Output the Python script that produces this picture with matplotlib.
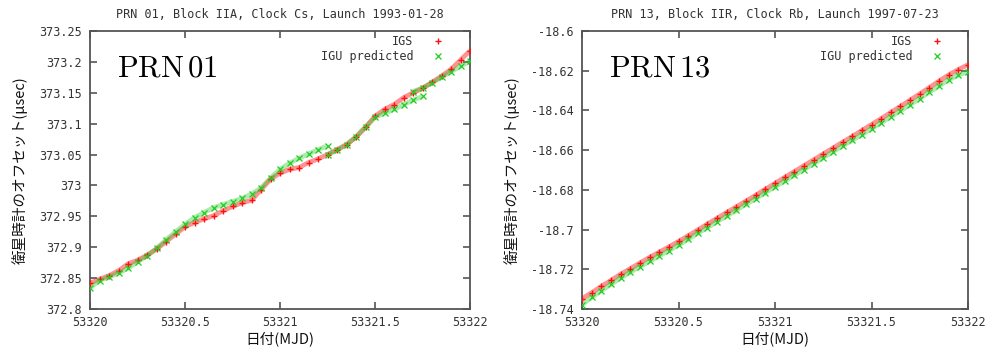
import numpy as np
import matplotlib
matplotlib.use("Agg")
import matplotlib.pyplot as plt
from matplotlib.ticker import FuncFormatter, MultipleLocator

plt.rcParams['mathtext.fontset'] = 'cm'

# ---------------- data ----------------
mjd = [53320.00, 53320.05, 53320.10, 53320.15, 53320.20, 53320.25, 53320.30, 53320.35,
       53320.40, 53320.45, 53320.50, 53320.55, 53320.60, 53320.65, 53320.70, 53320.75,
       53320.80, 53320.85, 53320.90, 53320.95, 53321.00, 53321.05, 53321.10, 53321.15,
       53321.20, 53321.25, 53321.30, 53321.35, 53321.40, 53321.45, 53321.50, 53321.55,
       53321.60, 53321.65, 53321.70, 53321.75, 53321.80, 53321.85, 53321.90, 53321.95,
       53322.00]

# PRN 01 - IGS (red)
prn01_igs = [372.842, 372.848, 372.854, 372.862, 372.873, 372.879, 372.887, 372.897,
             372.909, 372.921, 372.933, 372.940, 372.946, 372.951, 372.959, 372.966,
             372.972, 372.976, 372.993, 373.010, 373.020, 373.026, 373.029, 373.037,
             373.043, 373.050, 373.058, 373.066, 373.078, 373.094, 373.112, 373.123,
             373.131, 373.142, 373.150, 373.157, 373.167, 373.177, 373.188, 373.203,
             373.218]

# PRN 01 - IGU predicted (green), several prediction segments (NaN = break)
prn01_igu_mjd = [53320.00, 53320.05, 53320.10, 53320.15, 53320.20, 53320.25, 53320.30,
                 53320.35, 53320.40, 53320.45, 53320.50, 53320.55, 53320.60, 53320.65,
                 53320.70, 53320.75, 53320.80, 53320.85, 53320.90, 53320.95, 53321.00,
                 53321.05, 53321.10, 53321.15, 53321.20, 53321.25, 53321.25,
                 53321.25, 53321.30, 53321.35, 53321.40, 53321.45, 53321.50, 53321.55,
                 53321.60, 53321.65, 53321.70, 53321.75, 53321.75,
                 53321.70, 53321.75, 53321.80, 53321.85, 53321.90, 53321.95, 53322.00]
prn01_igu = [372.834, 372.846, 372.852, 372.858, 372.866, 372.876, 372.886,
             372.898, 372.912, 372.925, 372.937, 372.948, 372.956, 372.964,
             372.969, 372.974, 372.979, 372.986, 372.996, 373.012, 373.026,
             373.036, 373.044, 373.051, 373.058, 373.064, np.nan,
             373.050, 373.057, 373.066, 373.079, 373.095, 373.110, 373.117,
             373.123, 373.131, 373.138, 373.144, np.nan,
             373.152, 373.158, 373.166, 373.175, 373.184, 373.193, 373.201]

# PRN 13 - IGS (red)
prn13_igs = [-18.7348, -18.7318, -18.7286, -18.7256, -18.7225, -18.7197, -18.7168, -18.7140,
             -18.7114, -18.7087, -18.7060, -18.7031, -18.7002, -18.6972, -18.6943, -18.6914,
             -18.6885, -18.6856, -18.6827, -18.6797, -18.6767, -18.6737, -18.6708, -18.6678,
             -18.6649, -18.6619, -18.6590, -18.6560, -18.6531, -18.6501, -18.6471, -18.6441,
             -18.6410, -18.6380, -18.6348, -18.6317, -18.6285, -18.6252, -18.6221, -18.6194,
             -18.6170]

# PRN 13 - IGU predicted (green)
prn13_igu = [-18.7378, -18.7342, -18.7308, -18.7276, -18.7244, -18.7215, -18.7187, -18.7160,
             -18.7132, -18.7106, -18.7078, -18.7049, -18.7019, -18.6990, -18.6960, -18.6932,
             -18.6903, -18.6873, -18.6844, -18.6815, -18.6785, -18.6756, -18.6727, -18.6698,
             -18.6668, -18.6638, -18.6609, -18.6579, -18.6551, -18.6522, -18.6492, -18.6462,
             -18.6432, -18.6402, -18.6371, -18.6340, -18.6308, -18.6277, -18.6246, -18.6222,
             -18.6205]

titles = ["PRN 01, Block IIA, Clock Cs, Launch 1993-01-28",
          "PRN 13, Block IIR, Clock Rb, Launch 1997-07-23"]
labels_big = [r"$\mathrm{PRN\,01}$", r"$\mathrm{PRN\,13}$"]
ylims = [(372.8, 373.25), (-18.74, -18.6)]
ysteps = [0.05, 0.02]
series_labels = ["IGS", "IGU predicted"]
xlabel = "日付(MJD)"
ylabel = "衛星時計のオフセット(μsec)"

# ---------------- style ----------------
RED = "#ff1010"
GREEN = "#22cc22"
FRAME = "#555555"
MONO = "DejaVu Sans Mono"
JP = ["Noto Sans CJK JP", "DejaVu Sans"]

fig = plt.figure(figsize=(9.88, 3.51), dpi=100)
positions = [[90/988, 42/351, 380/988, 278/351],
             [582/988, 42/351, 386/988, 278/351]]
legend_anchor = [(0.932, 0.985), (0.935, 0.985)]

datasets = [
    (mjd, prn01_igs, prn01_igu_mjd, prn01_igu),
    (mjd, prn13_igs, mjd, prn13_igu),
]

def fmt(v, pos):
    return format(round(v, 4), 'g')

for i, (pos, (xr, yr, xg, yg)) in enumerate(zip(positions, datasets)):
    ax = fig.add_axes(pos)
    # dense band underneath markers
    ax.plot(xr, yr, color=RED, lw=3.4, alpha=0.45, zorder=2, solid_capstyle='butt')
    ax.plot(xg, yg, color=GREEN, lw=3.4, alpha=0.38, zorder=2, solid_capstyle='butt')
    ax.plot(xr, yr, ls='none', marker='+', ms=5, mew=1.0, color=RED,
            label=series_labels[0], zorder=3)
    ax.plot(xg, yg, ls='none', marker='x', ms=4, mew=0.9, color=GREEN,
            label=series_labels[1], zorder=3)

    ax.set_xlim(53320, 53322)
    ax.set_ylim(*ylims[i])
    ax.xaxis.set_major_locator(MultipleLocator(0.5))
    ax.yaxis.set_major_locator(MultipleLocator(ysteps[i]))
    ax.xaxis.set_major_formatter(FuncFormatter(fmt))
    ax.yaxis.set_major_formatter(FuncFormatter(fmt))
    ax.tick_params(direction='in', length=5, width=1.2, color=FRAME,
                   top=True, right=True, labelsize=8.5, labelcolor="#333333")
    ax.tick_params(axis='y', pad=6)
    ax.tick_params(axis='x', pad=5)
    for lab in ax.get_xticklabels() + ax.get_yticklabels():
        lab.set_family(MONO)
    for sp in ax.spines.values():
        sp.set_color(FRAME)
        sp.set_linewidth(1.3)

    ax.set_title(titles[i], family=MONO, fontsize=8.5, color="#333333", pad=9)
    ax.set_xlabel(xlabel, family=JP, fontsize=10.5, labelpad=2, color="#111111")
    ax.set_ylabel(ylabel, family=JP, fontsize=10.5, labelpad=8, color="#111111")

    ax.text(0.07, 0.835, labels_big[i], transform=ax.transAxes, fontsize=22,
            color="black", ha='left', va='baseline')

    leg = ax.legend(loc='upper right', bbox_to_anchor=legend_anchor[i],
                    frameon=False, markerfirst=False,
                    prop={'family': MONO, 'size': 8.5}, handlelength=1.0,
                    handletextpad=1.6, labelspacing=0.15, borderaxespad=0,
                    borderpad=0)
    for t in leg.get_texts():
        t.set_color("#333333")

fig.savefig("out.png", dpi=100)
